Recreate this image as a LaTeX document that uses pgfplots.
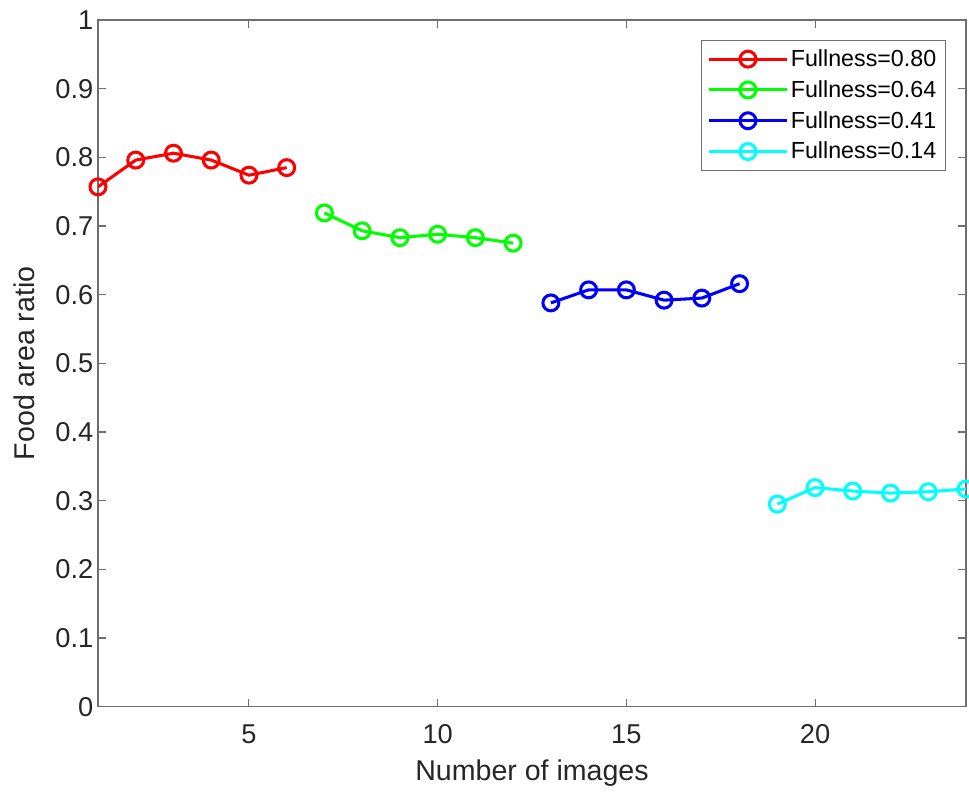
\documentclass[border=0pt]{standalone}
\usepackage{fontspec}
\setmainfont{Liberation Sans}
\usepackage{pgfplots}
\pgfplotsset{compat=1.18}
\definecolor{axgray}{RGB}{110,110,110}
\definecolor{mcyan}{RGB}{0,255,255}
\definecolor{mgreen}{RGB}{0,255,0}
\definecolor{mblue}{RGB}{0,0,255}
\definecolor{mred}{RGB}{255,0,0}

\begin{document}
\begin{tikzpicture}
  \begin{axis}[
    name=ax,
    scale only axis,
    width=651bp, height=515bp,
    xmin=1, xmax=24, ymin=0, ymax=1,
    xtick={5,10,15,20},
    ytick={0,0.1,...,1},
    yticklabel style={/pgf/number format/fixed},
    xticklabel style={yshift=-10bp},
    /pgf/number format/assume math mode=true,
    tick label style={font=\fontsize{20.5}{23}\selectfont, text=black!85},
    label style={font=\fontsize{21.5}{25}\selectfont, text=black!85},
    xlabel={Number of images},
    ylabel={Food area ratio},
    xlabel style={at={(axis description cs:0.5,-0.0961)}, anchor=center},
    ylabel style={at={(axis description cs:-0.0845,0.5)}, anchor=center},
    axis line style={axgray, line width=0.8pt},
    tick style={axgray, line width=0.8pt},
    major tick length=6bp,
    tick align=inside,
    legend style={
      at={(rel axis cs:0.977,0.971)}, anchor=north east,
      draw=axgray, line width=0.8pt,
      font=\fontsize{17.5}{20}\selectfont,
      inner xsep=5pt, inner ysep=5pt, row sep=5pt,
    },
    legend cell align=left,
    legend image code/.code={
      \draw[#1, mark=none] (0bp,0bp) -- (58bp,0bp);
      \draw[#1, only marks] plot coordinates {(29bp,0bp)};
    },
    every axis plot/.append style={line width=2.3pt, mark=o, mark size=6pt, mark options={line width=2.3pt}},
  ]
  \addplot[mred] coordinates {
    (1,0.757) (2,0.796) (3,0.806) (4,0.796) (5,0.774) (6,0.785)
  };
  \addlegendentry{Fullness=0.80}
  \addplot[mgreen] coordinates {
    (7,0.719) (8,0.693) (9,0.683) (10,0.688) (11,0.683) (12,0.675)
  };
  \addlegendentry{Fullness=0.64}
  \addplot[mblue] coordinates {
    (13,0.588) (14,0.607) (15,0.607) (16,0.592) (17,0.595) (18,0.616)
  };
  \addlegendentry{Fullness=0.41}
  \addplot[mcyan] coordinates {
    (19,0.295) (20,0.319) (21,0.314) (22,0.311) (23,0.313) (24,0.317)
  };
  \addlegendentry{Fullness=0.14}
  \end{axis}
  \pgfresetboundingbox
  \path[use as bounding box] ([shift={(-73.5bp,-64bp)}]ax.south west) rectangle ([shift={(2.25bp,15bp)}]ax.north east);
\end{tikzpicture}
\end{document}
